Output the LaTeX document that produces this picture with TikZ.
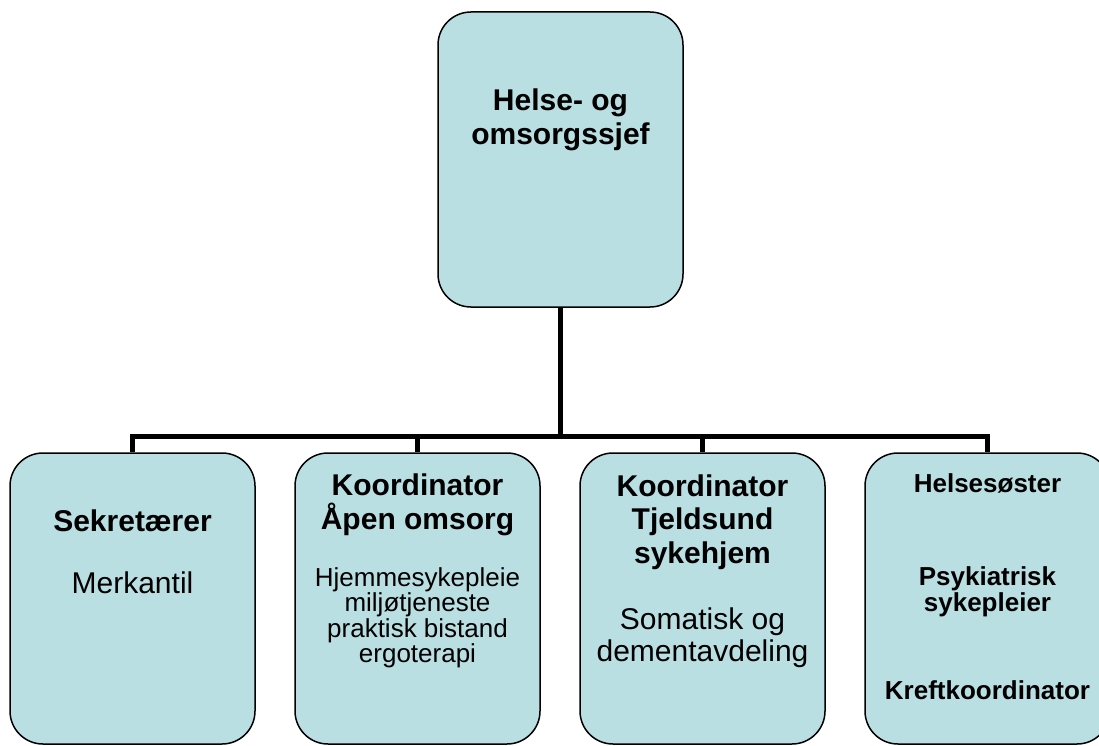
\documentclass[tikz,border=0pt]{standalone}
\usepackage{fontspec}
\setmainfont{Liberation Sans}
\usetikzlibrary{positioning}
\definecolor{boxblue}{RGB}{185,223,227}

\begin{document}
\begin{tikzpicture}[
    x=1pt, y=-1pt,
    unit/.style={rectangle, rounded corners=33pt, draw=black, line width=1.5pt,
        fill=boxblue, minimum width=245pt, minimum height=291pt, inner sep=0pt},
    head/.style={anchor=base, align=center, font=\fontsize{30}{33.5}\selectfont\bfseries},
    body/.style={anchor=base, align=center, font=\fontsize{30}{32}\selectfont},
    small/.style={anchor=base, align=center, font=\fontsize{26}{24}\selectfont},
    smallhead/.style={anchor=base, align=center, font=\fontsize{26}{26}\selectfont\bfseries},
    tree/.style={line width=5pt}
]
\useasboundingbox (0,0) rectangle (1099,746);
\fill[white] (0,0) rectangle (1099,746);

% boxes
\node[unit, minimum height=295pt] (chief) at (560.5,159.5) {};
\node[unit] (sekr) at (132.5,598.5) {};
\node[unit, right=38.5pt of sekr] (apen) {};
\node[unit, right=38.5pt of apen] (tjeld) {};
\node[unit, right=38.5pt of tjeld] (helse) {};

% tree lines
\coordinate (bar) at (560.5,436);
\draw[tree] (chief.south) -- (chief.south |- bar);
\draw[tree] (sekr.north) -- (sekr.north |- bar) -- (helse.north |- bar) -- (helse.north);
\foreach \n in {apen,tjeld}
    \draw[tree] (\n.north) -- (\n.north |- bar);

% texts (base = last line)
\node[head, yshift=-133pt] (chiefname) at (chief.north) {Helse- og\\omsorgssjef};

\node[head, yshift=-79pt] (sekrname) at (sekr.north) {Sekretærer};
\node[body, yshift=-141pt] (sekrtask) at (sekr.north) {Merkantil};

\node[head, yshift=-77pt] (apenname) at (apen.north) {Koordinator\\Åpen omsorg};
\node[small, yshift=-210pt] (apentask) at (apen.north)
    {Hjemmesykepleie\\miljøtjeneste\\praktisk bistand\\ergoterapi};

\node[head, yshift=-111pt] (tjeldname) at (tjeld.north) {Koordinator\\Tjeldsund\\sykehjem};
\node[body, yshift=-209pt] (tjeldtask) at (tjeld.north) {Somatisk og\\dementavdeling};

\node[smallhead, yshift=-40pt] (helsea) at (helse.north) {Helsesøster};
\node[smallhead, yshift=-159pt] (helseb) at (helse.north) {Psykiatrisk\\sykepleier};
\node[smallhead, yshift=-247pt] (helsec) at (helse.north) {Kreftkoordinator};
\end{tikzpicture}
\end{document}
